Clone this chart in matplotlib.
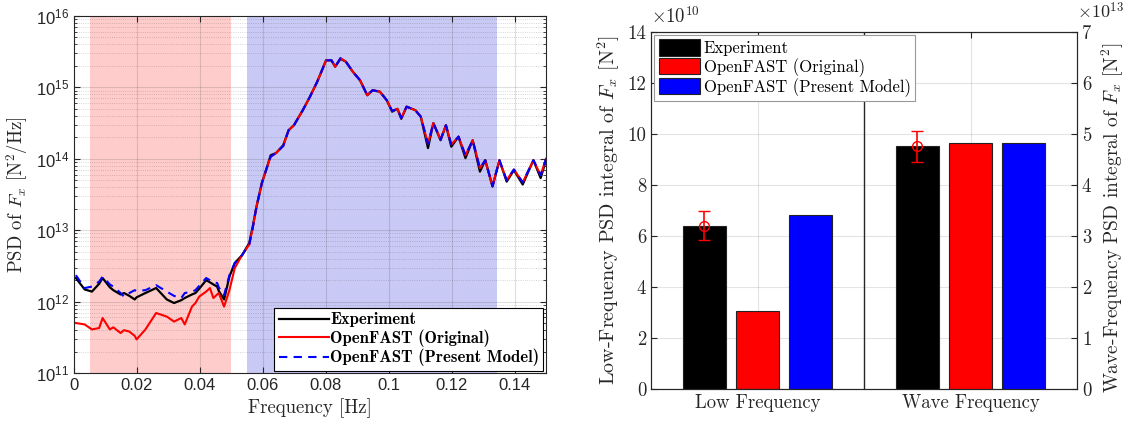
import numpy as np
import matplotlib
matplotlib.use("Agg")
import matplotlib.pyplot as plt
from matplotlib.ticker import FuncFormatter, LogLocator, NullFormatter

plt.rcParams['font.family'] = 'serif'
plt.rcParams['font.serif'] = ['cmr10']
plt.rcParams['mathtext.fontset'] = 'cm'
plt.rcParams['axes.formatter.use_mathtext'] = True

# ---- left panel: PSD of Fx (values read as log10 of N^2/Hz) ----
f_low = [0.0006, 0.0034, 0.0057, 0.0080, 0.0091, 0.0114, 0.0125, 0.0148, 0.0159, 0.0176,
         0.0193, 0.0199, 0.0227, 0.0261, 0.0295, 0.0318, 0.0341, 0.0352, 0.0375, 0.0386,
         0.0398, 0.0420, 0.0432, 0.0443, 0.0455, 0.0460, 0.0477, 0.0494, 0.0511]
exp_low = [12.33, 12.17, 12.14, 12.25, 12.33, 12.20, 12.16, 12.10, 12.12, 12.08,
           12.03, 12.06, 12.12, 12.19, 12.03, 11.98, 12.02, 12.05, 12.10, 12.12,
           12.18, 12.30, 12.27, 12.24, 12.21, 12.15, 12.03, 12.35, 12.54]
orig_low = [11.70, 11.68, 11.61, 11.63, 11.77, 11.61, 11.64, 11.56, 11.60, 11.58,
            11.52, 11.47, 11.61, 11.84, 11.79, 11.72, 11.77, 11.68, 11.93, 11.98,
            12.07, 12.14, 12.19, 12.05, 12.10, 12.12, 11.93, 12.16, 12.47]
new_low = [12.37, 12.19, 12.21, 12.28, 12.35, 12.24, 12.21, 12.12, 12.07, 12.12,
           12.16, 12.15, 12.16, 12.23, 12.14, 12.08, 12.05, 12.12, 12.14, 12.16,
           12.22, 12.33, 12.30, 12.27, 12.26, 12.20, 12.09, 12.37, 12.54]

f_wave = [0.0534, 0.0557, 0.0568, 0.0580, 0.0597, 0.0614, 0.0625, 0.0642, 0.0665, 0.0682,
          0.0699, 0.0727, 0.0750, 0.0773, 0.0790, 0.0801, 0.0818, 0.0830, 0.0847, 0.0864,
          0.0886, 0.0909, 0.0932, 0.0949, 0.0972, 0.0994, 0.1011, 0.1028, 0.1040, 0.1057,
          0.1085, 0.1102, 0.1125, 0.1142, 0.1165, 0.1182, 0.1199, 0.1222, 0.1244, 0.1267,
          0.1290, 0.1307, 0.1330, 0.1352, 0.1375, 0.1398, 0.1426, 0.1460, 0.1483, 0.1500]
exp_wave = [12.65, 12.82, 13.05, 13.33, 13.66, 13.89, 14.05, 14.08, 14.19, 14.40,
            14.47, 14.68, 14.87, 15.08, 15.26, 15.38, 15.38, 15.29, 15.40, 15.36,
            15.22, 15.10, 14.89, 14.96, 14.94, 14.82, 14.66, 14.70, 14.56, 14.73,
            14.68, 14.59, 14.15, 14.50, 14.26, 14.47, 14.17, 14.31, 14.01, 14.26,
            13.82, 13.98, 13.61, 13.98, 13.68, 13.84, 13.64, 13.98, 13.73, 13.98]
orig_wave = [12.65, 12.80, 13.03, 13.33, 13.66, 13.89, 14.03, 14.08, 14.18, 14.40,
             14.47, 14.68, 14.87, 15.08, 15.26, 15.38, 15.38, 15.29, 15.41, 15.36,
             15.22, 15.10, 14.89, 14.96, 14.94, 14.82, 14.67, 14.70, 14.57, 14.73,
             14.68, 14.59, 14.21, 14.50, 14.27, 14.47, 14.20, 14.31, 14.05, 14.26,
             13.87, 13.98, 13.62, 13.98, 13.70, 13.85, 13.67, 13.98, 13.77, 14.00]
new_wave = orig_wave

low_band = (0.005, 0.050)
wave_band = (0.055, 0.1345)
psd_labels = ['Experiment', 'OpenFAST (Original)', 'OpenFAST (Present Model)']

# ---- right panel: PSD integrals ----
groups = ['Low Frequency', 'Wave Frequency']
low_vals = [6.38e10, 3.07e10, 6.81e10]
wave_vals = [4.76e13, 4.82e13, 4.82e13]
low_err = (5.86e10, 6.99e10)
wave_err = (4.45e13, 5.05e13)
bar_colors = ['black', 'red', 'blue']
offsets = [-0.25, 0.0, 0.25]

fig = plt.figure(figsize=(11.26, 4.23), dpi=100)
ax1 = fig.add_axes([0.0657, 0.1182, 0.4192, 0.844])

ax1.axvspan(*low_band, color=(1.0, 0.80, 0.80), lw=0, zorder=1)
ax1.axvspan(*wave_band, color=(0.79, 0.79, 0.96), lw=0, zorder=1)

ax1.plot(f_low + f_wave, 10 ** np.array(exp_low + exp_wave), color='black', lw=1.6, label=psd_labels[0])
ax1.plot(f_low + f_wave, 10 ** np.array(orig_low + orig_wave), color='red', lw=1.5, label=psd_labels[1])
ax1.plot(f_low + f_wave, 10 ** np.array(new_low + new_wave), color='blue', lw=1.5, ls=(0, (4, 3)),
         label=psd_labels[2])

ax1.set_yscale('log')
ax1.set_xlim(0, 0.15)
ax1.set_ylim(1e11, 1e16)
yt = [1e11, 1e12, 1e13, 1e14, 1e15, 1e16]
ax1.set_yticks(yt)
ax1.set_yticklabels([r'$\mathdefault{10^{%d}}$' % k for k in range(11, 17)],
                    fontfamily='Liberation Sans', fontsize=12, color='#262626')
ax1.yaxis.set_minor_locator(LogLocator(base=10, subs=np.arange(2, 10)))
ax1.yaxis.set_minor_formatter(NullFormatter())
xt = [0, 0.02, 0.04, 0.06, 0.08, 0.1, 0.12, 0.14]
ax1.set_xticks(xt)
ax1.set_xticklabels(['0', '0.02', '0.04', '0.06', '0.08', '0.1', '0.12', '0.14'],
                    fontfamily='Liberation Sans', fontsize=12, color='#262626')
ax1.tick_params(which='both', direction='in', top=True, right=True, color='#262626')
ax1.tick_params(which='major', length=4)
ax1.tick_params(which='minor', length=2)
ax1.grid(True, which='major', color='#262626', alpha=0.15, lw=0.8)
ax1.grid(True, which='minor', axis='y', color='#262626', alpha=0.25, lw=0.6, ls=':')
for s in ax1.spines.values():
    s.set_color('#262626')
    s.set_linewidth(0.8)
ax1.set_xlabel('Frequency [Hz]', fontsize=13.5, color='#262626', labelpad=4)
ax1.set_ylabel(r'PSD of $F_x$ [N$^2$/Hz]', fontsize=13.5, color='#262626', labelpad=4)
leg1 = ax1.legend(loc='lower right', bbox_to_anchor=(1.0, 0.0), borderaxespad=0.15,
                  fancybox=False, edgecolor='black', framealpha=1, handlelength=3.0,
                  handletextpad=0.1, borderpad=0.25, labelspacing=0.12,
                  prop={'family': 'cmb10', 'size': 12})
leg1.get_frame().set_linewidth(0.8)

# ---- right panel ----
ax2 = fig.add_axes([0.5782, 0.0804, 0.3783, 0.844])
ax3 = ax2.twinx()
for i in range(3):
    ax2.bar(1 + offsets[i], low_vals[i], width=0.2, color=bar_colors[i], edgecolor='#222222',
            lw=0.8, label=psd_labels[i], zorder=2)
    ax3.bar(2 + offsets[i], wave_vals[i], width=0.2, color=bar_colors[i], edgecolor='#222222',
            lw=0.8, zorder=2)
ax2.errorbar(1 + offsets[0], low_vals[0],
             yerr=[[low_vals[0] - low_err[0]], [low_err[1] - low_vals[0]]],
             fmt='o', mfc='none', mec='red', ecolor='red', ms=7, capsize=4, lw=1.2, zorder=3)
ax3.errorbar(2 + offsets[0], wave_vals[0],
             yerr=[[wave_vals[0] - wave_err[0]], [wave_err[1] - wave_vals[0]]],
             fmt='o', mfc='none', mec='red', ecolor='red', ms=7, capsize=4, lw=1.2, zorder=3)
ax2.axvline(1.5, color='#262626', lw=1.0, zorder=1)

ax2.set_xlim(0.5, 2.5)
ax2.set_ylim(0, 14e10)
ax3.set_ylim(0, 7e13)
ax2.set_yticks(np.arange(0, 15e10, 2e10))
ax3.set_yticks(np.arange(0, 8e13, 1e13))
ax2.yaxis.set_major_formatter(FuncFormatter(lambda v, p: '%d' % round(v / 1e10)))
ax3.yaxis.set_major_formatter(FuncFormatter(lambda v, p: '%d' % round(v / 1e13)))
ax2.set_xticks([1, 2])
ax2.set_xticklabels(groups)
for a in (ax2, ax3):
    a.tick_params(direction='in', labelsize=13.5, colors='#262626', length=4, top=True)
    for s in a.spines.values():
        s.set_color('#262626')
        s.set_linewidth(0.8)
ax2.grid(True, color='#262626', alpha=0.12, lw=0.8)
ax2.set_axisbelow(True)
ax2.text(0.0, 1.015, r'$\times10^{10}$', transform=ax2.transAxes, fontsize=13.5,
         color='#262626', ha='left', va='bottom')
ax3.text(1.0, 1.03, r'$\times10^{13}$', transform=ax3.transAxes, fontsize=13,
         color='#262626', ha='left', va='bottom')
ax2.set_ylabel(r'Low-Frequency PSD integral of $F_x$ [N$^2$]', fontsize=14.5, color='#262626',
               labelpad=4)
ax3.set_ylabel(r'Wave-Frequency PSD integral of $F_x$ [N$^2$]', fontsize=14, color='#262626',
               labelpad=4)
ax3.yaxis.set_label_coords(1.055, 0.48)
leg2 = ax2.legend(loc='upper left', borderaxespad=0.2, fancybox=False, edgecolor='#999999',
                  framealpha=1, handlelength=2.5, handleheight=1.15, handletextpad=0.2,
                  borderpad=0.25, labelspacing=0.08, fontsize=12)
leg2.get_frame().set_linewidth(0.8)

fig.savefig('out.png', dpi=100)
